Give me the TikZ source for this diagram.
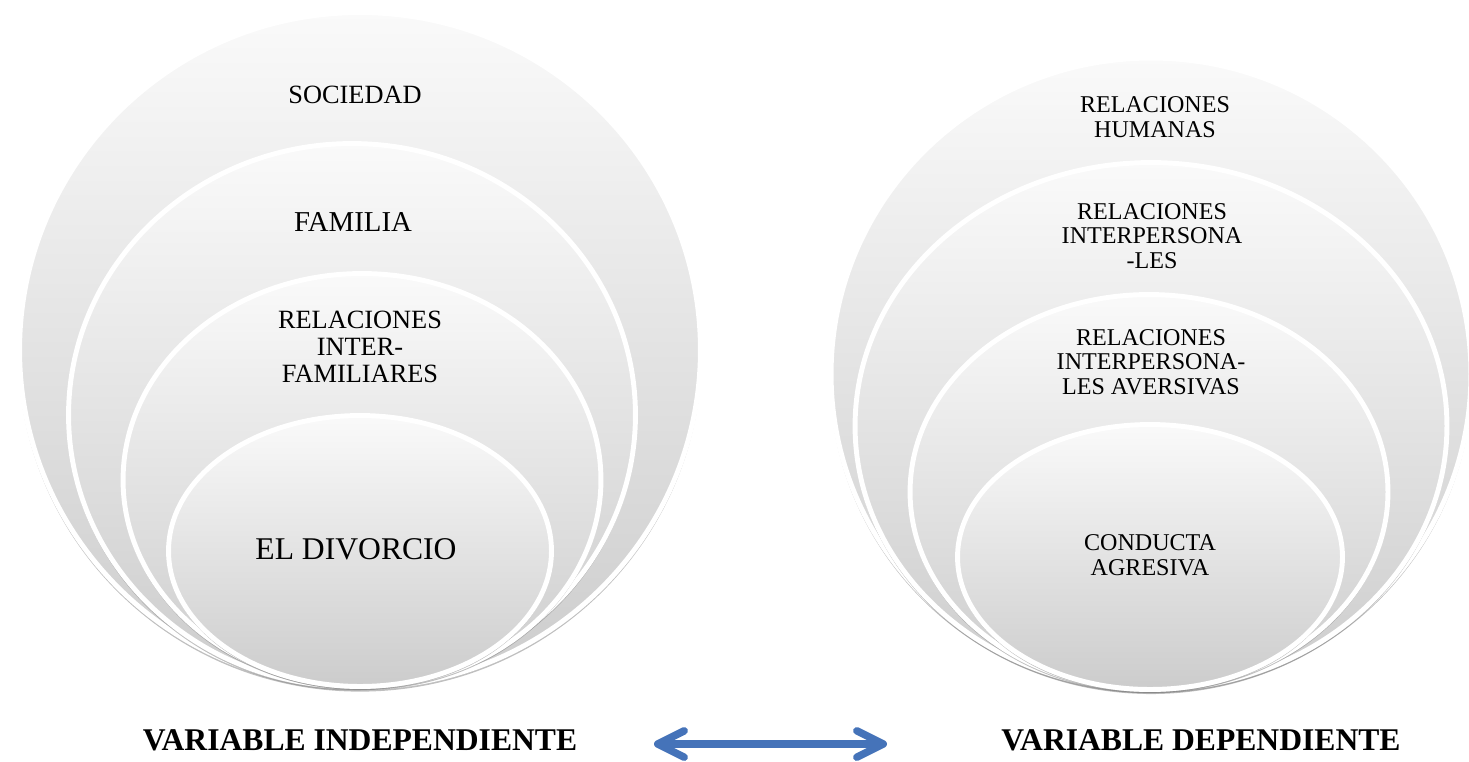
\documentclass[tikz,border=0pt]{standalone}
\usepackage{fontspec}
\setmainfont{Liberation Serif}
\usetikzlibrary{shapes.geometric,shadows,arrows.meta}

\definecolor{azul}{RGB}{69,115,185}

\begin{document}
\begin{tikzpicture}[x=0.02cm,y=-0.02cm,
  capa/.style={ellipse,draw=white,line width=2.8pt,inner sep=0pt,
    top color=gray!4,bottom color=gray!40,
    drop shadow={opacity=0.5,shadow xshift=0pt,shadow yshift=-1.6pt,shadow scale=1.004}},
  rotulo/.style={align=center,inner sep=0pt}]

\useasboundingbox (0,0) rectangle (1469,761);

\def\letraizq{\fontsize{15}{15.4}\selectfont}% texto izquierda
\def\letrader{\fontsize{13.7}{14}\selectfont}% texto derecha

% variable independiente
\node[capa,minimum width=13.62cm,minimum height=13.5cm] (soc) at (360,350) {};
\node[capa,minimum width=11.34cm,minimum height=10.86cm] (fam) at (352,415) {};
\node[capa,minimum width=9.56cm,minimum height=8.26cm] (rel) at (362,480) {};
\node[capa,minimum width=7.66cm,minimum height=5.42cm] (div) at (360,551) {};

\node[rotulo,font=\letraizq] (tsoc) at (355,95) {SOCIEDAD};
\node[rotulo,font=\fontsize{16.4}{18}\selectfont] (tfam) at (353,222) {FAMILIA};
\node[rotulo,font=\letraizq] (trel) at (360,347) {RELACIONES\\INTER-\\FAMILIARES};
\node[rotulo,font=\fontsize{18}{20}\selectfont] (tdiv) at (356,549) {EL DIVORCIO};

% variable dependiente
\node[capa,minimum width=12.8cm,minimum height=12.64cm] (hum) at (1151,374) {};
\node[capa,minimum width=11.84cm,minimum height=10.54cm] (inter) at (1151,426) {};
\node[capa,minimum width=9.56cm,minimum height=7.9cm] (aver) at (1149,492) {};
\node[capa,minimum width=7.7cm,minimum height=5.3cm] (cond) at (1150,557) {};

\node[rotulo,font=\letrader] (thum) at (1155,117) {RELACIONES\\HUMANAS};
\node[rotulo,font=\letrader] (tinter) at (1152,236) {RELACIONES\\INTERPERSONA\\-LES};
\node[rotulo,font=\letrader] (taver) at (1151,362) {RELACIONES\\INTERPERSONA-\\LES AVERSIVAS};
\node[rotulo,font=\letrader] (tcond) at (1150,555) {CONDUCTA\\AGRESIVA};

% rotulos de abajo
\node[font=\bfseries\fontsize{18}{20}\selectfont] (vi) at (360,740) {VARIABLE INDEPENDIENTE};
\node[font=\bfseries\fontsize{18}{20}\selectfont] (vd) at (1201,740) {VARIABLE DEPENDIENTE};

\coordinate (fizq) at (654,744);
\coordinate (fder) at (887,744);
\draw[azul,line width=4.3pt,{Straight Barb[length=15pt,width=15pt,round]}-{Straight Barb[length=15pt,width=15pt,round]}] (fizq) -- (fder);% flecha doble

\end{tikzpicture}
\end{document}
